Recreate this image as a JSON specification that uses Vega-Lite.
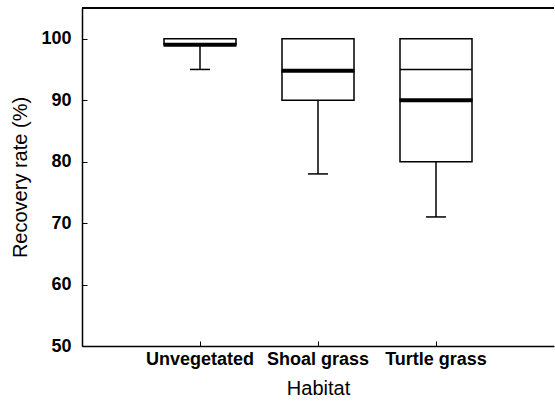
{
  "$schema": "https://vega.github.io/schema/vega-lite/v6.json",
  "width": 472,
  "height": 338,
  "autosize": "none",
  "padding": {"left": 82, "top": 8, "right": 1, "bottom": 59},
  "background": "white",
  "config": {
    "view": {"stroke": null, "strokeWidth": 0},
    "font": "Liberation Sans",
    "tick": {"opacity": 1},
    "axis": {
      "domainColor": "black",
      "domainWidth": 1.5,
      "tickColor": "black",
      "tickWidth": 1,
      "grid": false,
      "labelColor": "black",
      "titleColor": "black",
      "labelFont": "Liberation Sans",
      "titleFont": "Liberation Sans"
    }
  },
  "data": {
    "values": [
      {"habitat": "Unvegetated", "lower": 95, "q1": 99, "median": 99, "q3": 100, "mean": null},
      {"habitat": "Shoal grass", "lower": 78, "q1": 90, "median": 94.8, "q3": 100, "mean": null},
      {"habitat": "Turtle grass", "lower": 71, "q1": 80, "median": 90, "q3": 100, "mean": 95}
    ]
  },
  "layer": [
    {
      "mark": {"type": "rule", "color": "black", "strokeWidth": 1.5},
      "encoding": {
        "x": {
          "field": "habitat",
          "type": "nominal",
          "sort": ["Unvegetated", "Shoal grass", "Turtle grass"],
          "scale": {"type": "band", "paddingInner": 0, "paddingOuter": 0.5},
          "axis": {
            "title": "Habitat",
            "labelAngle": 0,
            "labelFontSize": 18,
            "labelFontWeight": "bold",
            "titleFontSize": 20,
            "titleFontWeight": "normal",
            "tickSize": -5,
            "tickBand": "center",
            "labelPadding": 9,
            "titlePadding": 10
          }
        },
        "y": {
          "field": "lower",
          "type": "quantitative",
          "scale": {"domain": [50, 105], "nice": false, "zero": false},
          "axis": {
            "title": "Recovery rate (%)",
            "values": [50, 55, 60, 65, 70, 75, 80, 85, 90, 95, 100, 105],
            "labelExpr": "datum.value % 10 === 0 && datum.value <= 100 ? datum.label : ''",
            "labelFontSize": 18,
            "labelFontWeight": "bold",
            "titleFontSize": 20,
            "titleFontWeight": "normal",
            "tickSize": -5,
            "labelPadding": 16,
            "titlePadding": 10
          }
        },
        "y2": {"field": "q1"}
      }
    },
    {
      "mark": {"type": "tick", "color": "black", "thickness": 1.5, "size": 20},
      "encoding": {
        "x": {"field": "habitat", "type": "nominal", "sort": ["Unvegetated", "Shoal grass", "Turtle grass"]},
        "y": {"field": "lower", "type": "quantitative"}
      }
    },
    {
      "mark": {"type": "bar", "fill": "white", "stroke": "black", "strokeWidth": 1.5, "width": 72},
      "encoding": {
        "x": {"field": "habitat", "type": "nominal", "sort": ["Unvegetated", "Shoal grass", "Turtle grass"]},
        "y": {"field": "q1", "type": "quantitative"},
        "y2": {"field": "q3"}
      }
    },
    {
      "mark": {"type": "tick", "color": "black", "thickness": 4, "size": 73},
      "encoding": {
        "x": {"field": "habitat", "type": "nominal", "sort": ["Unvegetated", "Shoal grass", "Turtle grass"]},
        "y": {"field": "median", "type": "quantitative"}
      }
    },
    {
      "transform": [{"filter": "isValid(datum.mean)"}],
      "mark": {"type": "tick", "color": "black", "thickness": 1.5, "size": 72},
      "encoding": {
        "x": {"field": "habitat", "type": "nominal", "sort": ["Unvegetated", "Shoal grass", "Turtle grass"]},
        "y": {"field": "mean", "type": "quantitative"}
      }
    },
    {
      "mark": {"type": "rule", "color": "black", "strokeWidth": 1.5},
      "encoding": {"y": {"datum": 105, "type": "quantitative"}}
    }
  ]
}
